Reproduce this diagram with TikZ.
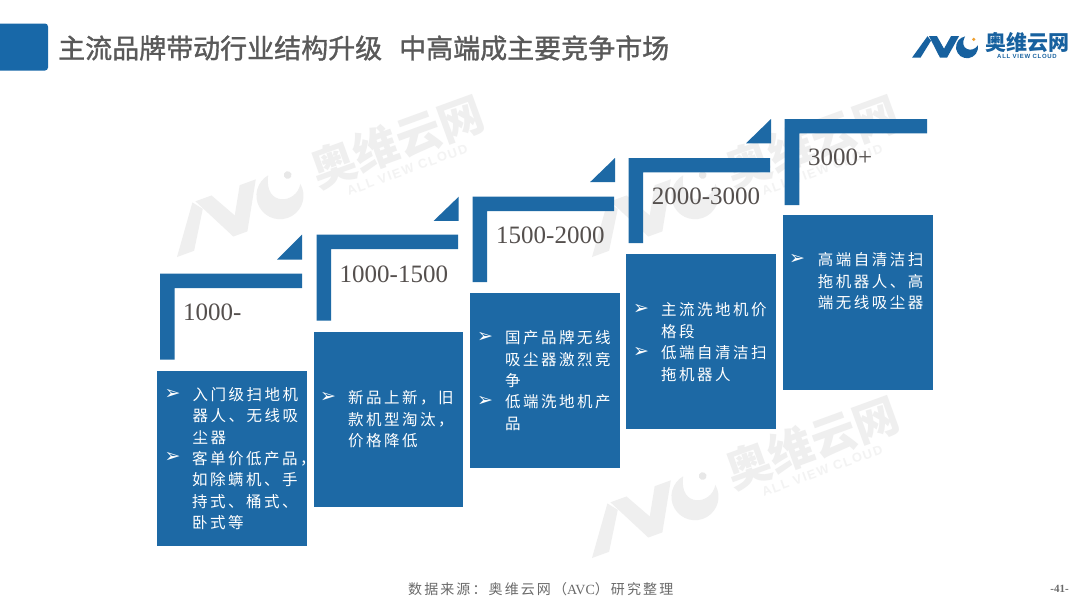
\documentclass[tikz,border=0pt]{standalone}
\usepackage{fontspec}
\setmainfont{Liberation Serif}
\newfontfamily\cjk{Noto Sans CJK SC}
\newfontfamily\cjktitle[FakeBold=1.2]{Noto Sans CJK SC}
\newfontfamily\cjkbody[LetterSpace=16]{Noto Sans CJK SC}
\newfontfamily\cjkfoot[LetterSpace=15]{Noto Sans CJK SC}
\newfontfamily\arrowfont{DejaVu Sans}
\newfontfamily\logofont[LetterSpace=12]{Liberation Sans}
\definecolor{stepblue}{HTML}{1D69A5}
\definecolor{headblue}{HTML}{1868A8}
\definecolor{titlegray}{HTML}{595959}
\definecolor{numgray}{HTML}{55504E}
\definecolor{footgray}{HTML}{6A6A6A}
\definecolor{markgray}{HTML}{EFEFEF}
\definecolor{marktext}{HTML}{F3F3F3}
\definecolor{markdot}{HTML}{E8E8E8}
\definecolor{logoblue}{HTML}{17619F}
\definecolor{logodot}{HTML}{EFA02F}
\tikzset{
  pricebox/.style={fill=stepblue,draw=none,inner sep=0pt,anchor=north west},
  pricelabel/.style={anchor=base west,inner sep=0pt,text=numgray,font=\fontsize{25}{25}\selectfont},
  bodyitem/.style={anchor=west,inner sep=0pt,text=white,align=left,font=\cjkbody\fontsize{15.5}{21.5}\selectfont},
  bullet/.style={inner sep=0pt,text=white,font=\arrowfont\fontsize{19}{19}\selectfont},
}
% #1 main colour, #2 dot colour, #3 text colour
\newcommand{\avcmark}[3]{%
  \fill[#1] (0,0)--(8.5,0)--(19,17)--(15.5,21.5)--cycle;
  \fill[#1] (17,21.5)--(25,21.5)--(32,9)--(39,21.5)--(47,21.5)--(35,0)--(28,0)--cycle;
  \fill[#1] (53.1,21.3) arc[start angle=100,delta angle=270,radius=11]
     .. controls (61,4) and (46,8) .. cycle;
  \fill[#2] (61.7,18.3) circle[radius=1.8];
  \node[anchor=west,inner sep=0pt,text=#1,font=\cjk\bfseries\fontsize{21}{21}\selectfont] at (73,15.5) {奥维云网};
  \node[inner sep=0pt,text=#3,font=\logofont\bfseries\fontsize{6}{6}\selectfont] at (115,1.5) {ALL VIEW CLOUD};
}
\begin{document}
\begin{tikzpicture}[x=1pt,y=-1pt]
\useasboundingbox (0,0) rectangle (1080,608);
\fill[white] (0,0) rectangle (1080,608);
% watermarks
\begin{scope}[shift={(177,257)},y=1pt,rotate=20,scale=2.14,transform shape]
  \avcmark{markgray}{markdot}{marktext}
\end{scope}
\begin{scope}[shift={(592,257)},y=1pt,rotate=20,scale=2.14,transform shape]
  \avcmark{markgray}{markdot}{marktext}
\end{scope}
\begin{scope}[shift={(592,558)},y=1pt,rotate=20,scale=2.14,transform shape]
  \avcmark{markgray}{markdot}{marktext}
\end{scope}
% header
\fill[headblue,rounded corners=3pt] (-6,23.5) rectangle (48,70.5);
\node[anchor=west,inner sep=0pt,text=titlegray,font=\cjktitle\fontsize{27}{27}\selectfont] (title) at (58,48) {主流品牌带动行业结构升级\hspace{17pt}中高端成主要竞争市场};
\begin{scope}[shift={(912,57.7)},y=1pt]
  \avcmark{logoblue}{logodot}{logoblue}
\end{scope}
% steps
\fill[stepblue] (160,273.5)--(302,273.5)--(302,288)--(174.7,288)--(174.7,359.5)--(160,359.5)--cycle;
\fill[stepblue] (316.5,234.7)--(458,234.7)--(458,249.2)--(331,249.2)--(331,320.5)--(316.5,320.5)--cycle;
\fill[stepblue] (472.5,196.7)--(614,196.7)--(614,211)--(487,211)--(487,282)--(472.5,282)--cycle;
\fill[stepblue] (628.5,158)--(770,158)--(770,172.3)--(643,172.3)--(643,243)--(628.5,243)--cycle;
\fill[stepblue] (784.7,119)--(927,119)--(927,133.3)--(799.3,133.3)--(799.3,205)--(784.7,205)--cycle;
% triangles
\fill[stepblue] (302,234.7)--(302,259.5)--(277.2,259.5)--cycle;
\fill[stepblue] (458.7,196.7)--(458.7,220.8)--(433.7,220.8)--cycle;
\fill[stepblue] (615,158)--(615,182.2)--(590,182.2)--cycle;
\fill[stepblue] (771,119)--(771,143.3)--(746,143.3)--cycle;
% boxes
\node[pricebox,minimum width=150pt,minimum height=175.3pt] (box1) at (157,370.7) {};
\node[pricebox,minimum width=149.3pt,minimum height=174.3pt] (box2) at (313.7,332) {};
\node[pricebox,minimum width=149.3pt,minimum height=175pt] (box3) at (470,292.3) {};
\node[pricebox,minimum width=150pt,minimum height=175.4pt] (box4) at (626,253.3) {};
\node[pricebox,minimum width=150pt,minimum height=175.4pt] (box5) at (782.3,214.3) {};
% price labels
\node[pricelabel] (p1) at (183,320.7) {1000-};
\node[pricelabel] (p2) at (339.5,282) {1000-1500};
\node[pricelabel] (p3) at (496,243) {1500-2000};
\node[pricelabel] (p4) at (651.7,204.3) {2000-3000};
\node[pricelabel] (p5) at (808,165.7) {3000+};
% box 1
\node[bullet] (b1a) at (172.7,394) {➢};
\node[bodyitem] (t1a) at (192.5,416) {入门级扫地机\\器人、无线吸\\尘器};
\node[bullet] (b1b) at (172.7,457) {➢};
\node[bodyitem] (t1b) at (192,490.5) {客单价低产品，\\如除螨机、手\\持式、桶式、\\卧式等};
% box 2
\node[bullet] (b2a) at (328,397) {➢};
\node[bodyitem] (t2a) at (348,419.5) {新品上新，旧\\款机型淘汰，\\价格降低};
% box 3
\node[bullet] (b3a) at (485,337) {➢};
\node[bodyitem] (t3a) at (505,359.5) {国产品牌无线\\吸尘器激烈竞\\争};
\node[bullet] (b3b) at (485,401) {➢};
\node[bodyitem] (t3b) at (505,412.5) {低端洗地机产\\品};
% box 4
\node[bullet] (b4a) at (641,309) {➢};
\node[bodyitem] (t4a) at (661,320.5) {主流洗地机价\\格段};
\node[bullet] (b4b) at (641,352) {➢};
\node[bodyitem] (t4b) at (661,363.5) {低端自清洁扫\\拖机器人};
% box 5
\node[bullet] (b5a) at (797,259) {➢};
\node[bodyitem] (t5a) at (817.7,281.5) {高端自清洁扫\\拖机器人、高\\端无线吸尘器};
% footer
\node[anchor=west,inner sep=0pt,text=footgray,font=\cjkfoot\fontsize{14}{14}\selectfont] (source) at (408,589) {数据来源：奥维云网（{\rmfamily AVC}）研究整理};
\node[anchor=east,inner sep=0pt,text=footgray,font=\bfseries\fontsize{11}{11}\selectfont] (page) at (1069,589) {-41-};
\end{tikzpicture}
\end{document}
